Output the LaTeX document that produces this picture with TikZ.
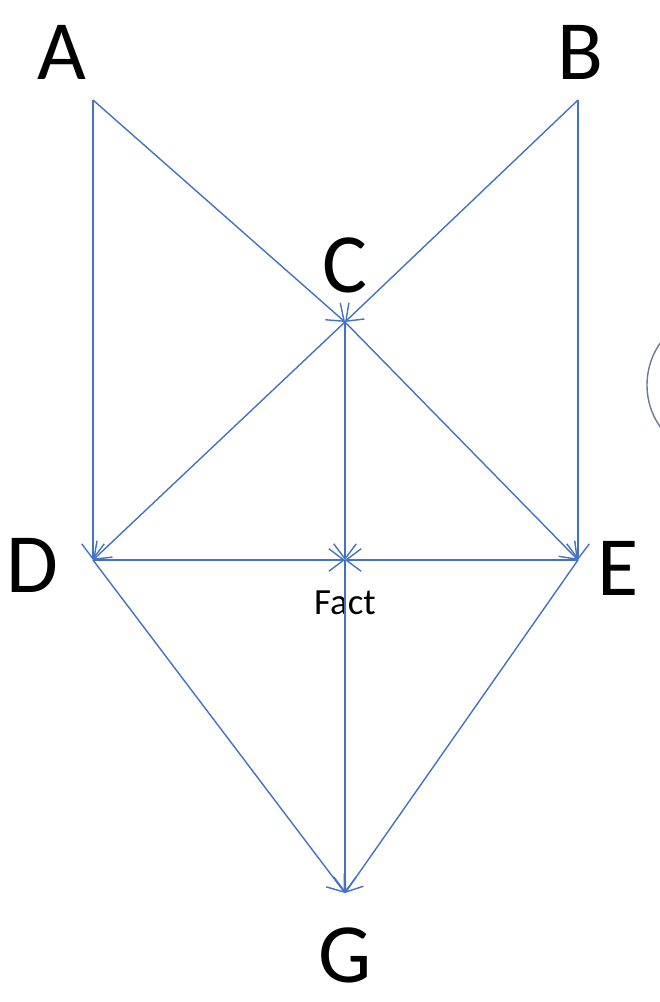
\documentclass[tikz,border=0pt]{standalone}
\usepackage{fontspec}
\setmainfont{Carlito}
\usetikzlibrary{arrows.meta}
\definecolor{linkblue}{RGB}{68,114,196}
\tikzset{
  link/.style={draw=linkblue, line width=0.8pt, -{Straight Barb[length=3mm,width=4.5mm]}},
  letter/.style={font=\fontsize{48}{50}\selectfont},
}
\begin{document}
\begin{tikzpicture}[x=0.02cm,y=-0.02cm]
    % Rahmen
    \useasboundingbox (0,0) rectangle (660,1002);
    % Punkte
    \coordinate (a) at (93,100);
    \coordinate (b) at (578,100);
    \coordinate (c) at (345,322);
    \coordinate (d) at (93,560);
    \coordinate (f) at (345,560);
    \coordinate (e) at (578,560);
    \coordinate (g) at (345,893);
    
    % Beschriftungen
    \node[letter] (la) at (62,52) {A};
    \node[letter] (lb) at (580,52) {B};
    \node[letter] (lc) at (345,265) {C};
    \node[letter] (ld) at (32,565) {D};
    \node[letter] (le) at (618,568) {E};
    \node[letter] (lg) at (345,955) {G};
    \node[font=\fontsize{21}{24}\selectfont] (lf) at (345,603) {Fact};
    
    % Pfeile
    \draw[link] (a) -- (c);
    \draw[link] (b) -- (c);
    \draw[link] (a) -- (d);
    \draw[link] (b) -- (e);
    \foreach \t in {d,f,e}
    \draw[link] (c) -- (\t);
    \draw[link] (d) -- (f);
    \draw[link] (e) -- (f);
    \foreach \s in {d,f,e}
    \draw[link] (\s) -- (g);
    
    % Kreis am Rand
    \begin{scope}
    \clip (0,0) rectangle (660,1002);
    \draw[gray!70!linkblue, line width=0.8pt] (720,385) circle (73);
    \end{scope}
\end{tikzpicture}
\end{document}
